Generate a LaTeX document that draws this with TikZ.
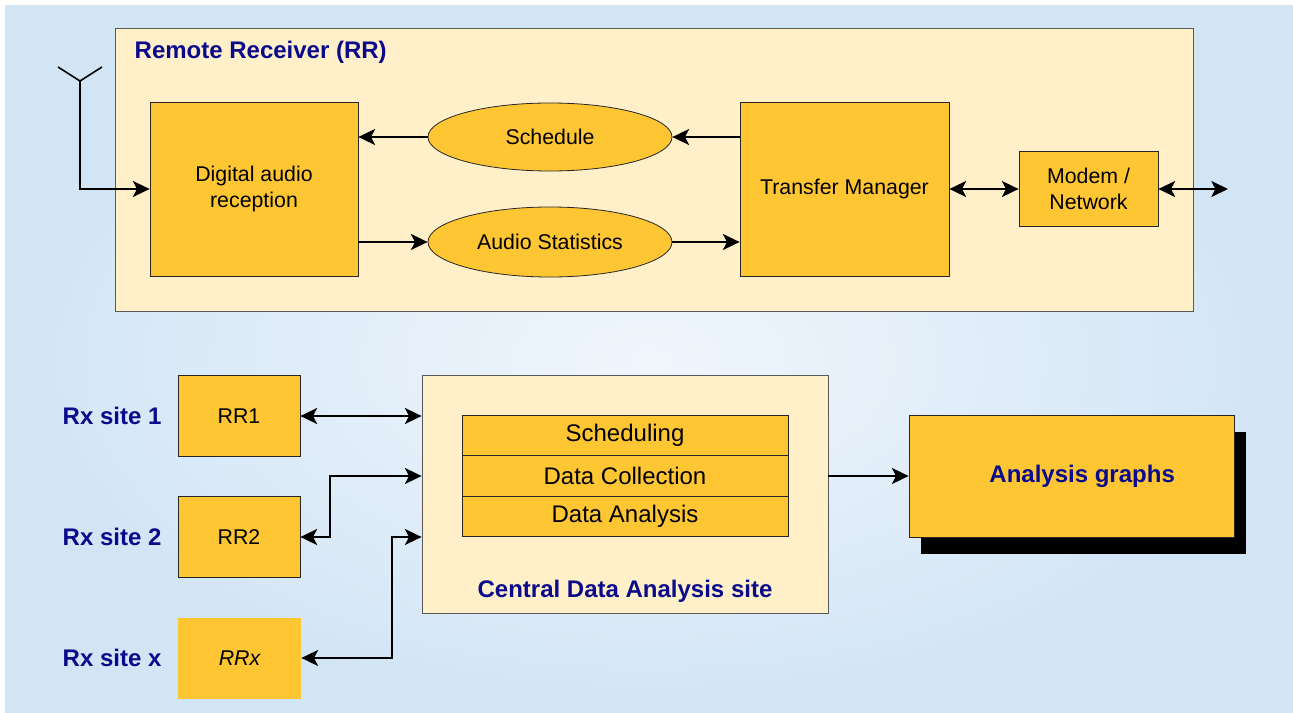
\documentclass[tikz,border=0pt]{standalone}
\usepackage{fontspec}
\setmainfont{Liberation Sans}
\usetikzlibrary{arrows.meta,shapes.geometric,shadows}

\definecolor{bgblue}{RGB}{210,229,245}
\definecolor{bglight}{RGB}{240,246,252}
\definecolor{cream}{RGB}{255,240,201}
\definecolor{amber}{RGB}{255,198,51}
\definecolor{navy}{RGB}{10,10,140}

\begin{document}
\begin{tikzpicture}[x=0.75pt,y=-0.75pt,
	>={Stealth[length=12.5pt,width=12pt,inset=3pt]},
	block/.style={draw=black!85,fill=amber,line width=0.6pt,align=center,
		font=\fontsize{16}{19}\selectfont},
	oval/.style={ellipse,draw=black!85,fill=amber,line width=0.6pt,inner sep=0pt,
		font=\fontsize{16}{19}\selectfont},
	panel/.style={draw=black!65,fill=cream,line width=0.6pt},
	row/.style={draw=black!85,fill=amber,line width=0.6pt,minimum width=244.5pt,
		minimum height=30.5pt,font=\fontsize{18}{21}\selectfont},
	heading/.style={text=navy,font=\fontsize{18}{21}\selectfont\bfseries},
	link/.style={line width=1.5pt}
]

% background %{{{2

	\useasboundingbox (0,0) rectangle (1293,713);
	\fill[white] (0,0) rectangle (1293,713);
	\shade[inner color=bglight, outer color=bgblue] (5,6) rectangle (1293,713);

% remote receiver %{{{2

	\draw[panel] (115,28) rectangle (1193,311);
	\node[heading, anchor=west] (rrtitle) at (130,52) {Remote Receiver (RR)};

	\node[block, minimum width=156pt, minimum height=130.5pt] (digital) at (254,189) {Digital audio\\reception};
	\node[block, minimum width=156.75pt, minimum height=130.5pt] (transfer) at (844.5,189) {Transfer Manager};
	\node[block, minimum width=104.25pt, minimum height=56.25pt] (modem) at (1088.5,189) {Modem /\\Network};

	\node[oval, minimum width=183pt, minimum height=51pt] (sched) at (550,137) {Schedule};
	\node[oval, minimum width=183pt, minimum height=52.5pt] (stats) at (550,242) {Audio Statistics};

	\coordinate (ant) at (80,81);
	\coordinate (uplink) at (1228,189);

% remote receiver links %{{{2

	\draw[line width=1.2pt] (58,67) -- (ant) -- (102,67);
	\draw[link,->] (ant) |- (digital.west);

	\draw[link,->] (transfer.west |- sched) -- (sched.east);
	\draw[link,->] (sched.west) -- (sched.west -| digital.east);
	\draw[link,->] (digital.east |- stats) -- (stats.west);
	\draw[link,->] (stats.east) -- (stats.east -| transfer.west);

	\draw[link,<->] (transfer.east) -- (modem.west);
	\draw[link,<->] (modem.east) -- (uplink);

% sites %{{{2

	\node[heading, anchor=west] (site1) at (58,416) {Rx site 1};
	\node[heading, anchor=west] (site2) at (58,537) {Rx site 2};
	\node[heading, anchor=west] (sitex) at (58,658) {Rx site x};

	\node[block, minimum width=91.5pt, minimum height=60.75pt] (rr1) at (239,416) {RR1};
	\node[block, minimum width=91.5pt, minimum height=60.75pt] (rr2) at (239,537) {RR2};
	\node[block, draw=none, minimum width=92.25pt, minimum height=60.75pt] (rrx) at (239.5,658) {\itshape RRx};

% central site %{{{2

	\node[panel, minimum width=304.5pt, minimum height=178.5pt] (central) at (625,494) {};

	\node[row] (schedrow) at (625,435.5) {Scheduling};
	\node[row] (collrow) at (625,476) {Data Collection};
	\node[row] (anarow) at (625,516.5) {Data Analysis};

	\node[heading] (centraltitle) at (625,591) {Central Data Analysis site};

	\node[block, minimum width=243.75pt, minimum height=91.5pt,
		drop shadow={shadow xshift=9pt, shadow yshift=-12.75pt, fill=black, opacity=1},
		text=navy, font=\fontsize{18}{21}\selectfont\bfseries] (analysis) at (1071.5,476) {\hspace*{16pt}Analysis graphs};

% site links %{{{2

	\draw[link,<->] (rr1.east) -- (rr1.east -| central.west);
	\draw[link,<->] (rr2.east) -- ++(30,0) |- (central.west |- collrow);
	\draw[link,<->] (rrx.east) -- ++(91,0) |- (central.west |- rr2);
	\draw[link,->] (central.east |- analysis) -- (analysis.west);

% closing %{{{2

\end{tikzpicture}
\end{document}
